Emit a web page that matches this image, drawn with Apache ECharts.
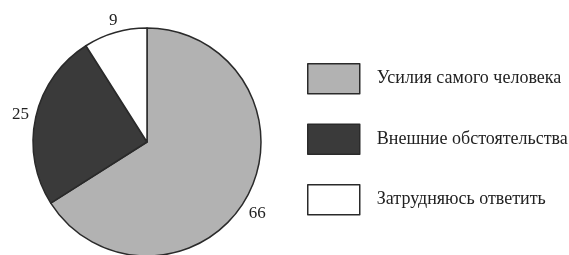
<!DOCTYPE html>
<html><head><meta charset="utf-8">
<script src="https://cdn.jsdelivr.net/npm/echarts@6/dist/echarts.min.js"></script>
<style>html,body{margin:0;padding:0;background:#fff}#c{width:569px;height:255px}</style>
</head><body><div id="c"></div>
<script>
const categories = ["Усилия самого человека", "Внешние обстоятельства", "Затрудняюсь ответить"];
const values = [66, 25, 9];
const colors = ["#b2b2b2", "#3a3a3a", "#ffffff"];
const labelOffsets = [[-12, 12], [8, 0], [10, -2]];

const chart = echarts.init(document.getElementById('c'), null, {renderer: 'canvas'});
chart.setOption({
  animation: false,
  backgroundColor: '#fff',
  legend: {
    orient: 'vertical',
    left: 307, top: 63,
    padding: 0,
    itemWidth: 52, itemHeight: 30, itemGap: 29,
    icon: 'rect',
    data: categories,
    textStyle: {fontFamily: 'Liberation Serif', fontSize: 18, color: '#222', padding: [0,0,0,12]},
    itemStyle: {borderColor: '#2a2a2a', borderWidth: 1.5}
  },
  series: [{
    type: 'pie',
    center: [147, 142],
    radius: 114,
    startAngle: 90,
    clockwise: true,
    data: categories.map((n, i) => ({name: n, value: values[i], itemStyle: {color: colors[i]}, label: {offset: labelOffsets[i]}})),
    itemStyle: {borderColor: '#2a2a2a', borderWidth: 1.5},
    label: {show: true, position: 'outside', alignTo: 'none', overflow: 'none', formatter: '{c}', fontFamily: 'Liberation Serif', fontSize: 17, color: '#222'},
    labelLine: {show: false, length: 10, length2: 0},
    emphasis: {disabled: true}
  }]
});
</script></body></html>
